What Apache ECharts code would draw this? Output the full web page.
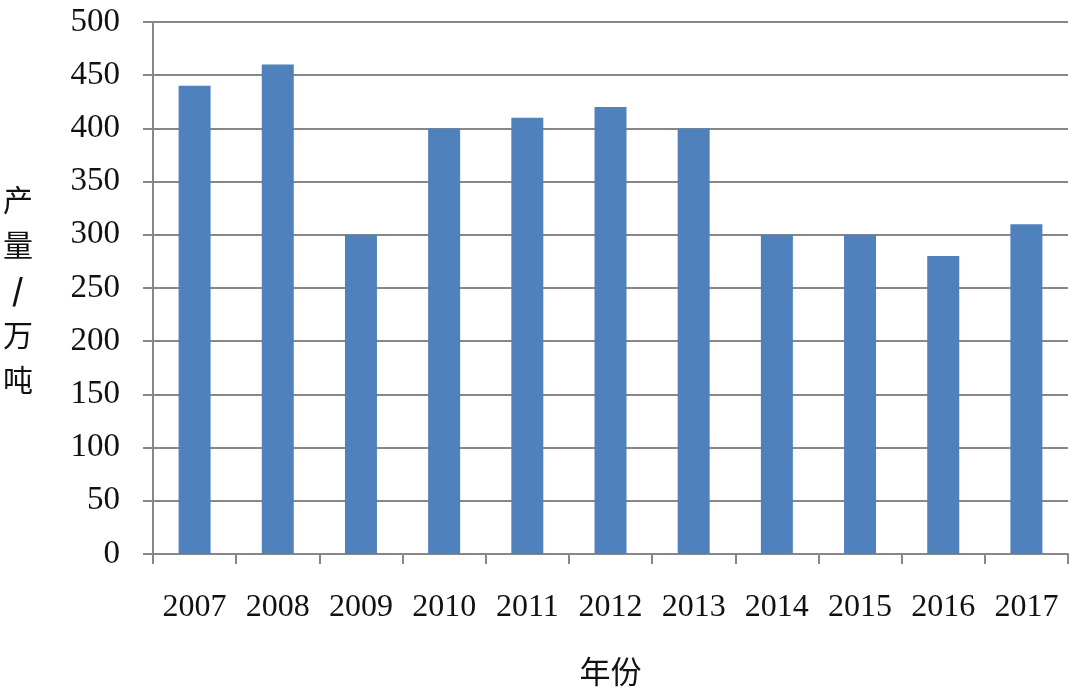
<!DOCTYPE html>
<html><head><meta charset="utf-8">
<script src="https://cdn.jsdelivr.net/npm/echarts@6/dist/echarts.min.js"></script>
<style>html,body{margin:0;padding:0;background:#fff}#c{width:1080px;height:698px}</style>
</head><body><div id="c"></div>
<script>
var categories = ['2007','2008','2009','2010','2011','2012','2013','2014','2015','2016','2017'];
var output = [440, 460, 300, 400, 410, 420, 400, 300, 300, 280, 310];
var yTicks = { min: 0, max: 500, interval: 50 };
var xName = '年份';
var yName = ['产','量','/','万','吨'];

var serif = '"Liberation Serif", "Times New Roman", serif';
var cjk = '"Noto Sans CJK SC", sans-serif';
var gray = '#878787';
var chart = echarts.init(document.getElementById('c'));
chart.setOption({
  animation: false,
  backgroundColor: '#fff',
  grid: { left: 153, top: 22, right: 12, bottom: 144, containLabel: false },
  xAxis: {
    type: 'category', data: categories,
    name: xName, nameLocation: 'middle', nameGap: 102,
    nameTextStyle: { fontFamily: cjk, fontSize: 31, color: '#111' },
    axisLine: { lineStyle: { color: gray, width: 2 } },
    axisTick: { show: true, length: 10, interval: 0, alignWithLabel: false, lineStyle: { color: gray, width: 2 } },
    axisLabel: { interval: 0, hideOverlap: false, fontFamily: serif, fontSize: 32, color: '#111', margin: 38 }
  },
  yAxis: {
    type: 'value', min: yTicks.min, max: yTicks.max, interval: yTicks.interval,
    axisLine: { show: true, lineStyle: { color: gray, width: 2 } },
    axisTick: { show: true, length: 10, lineStyle: { color: gray, width: 2 } },
    splitLine: { show: true, lineStyle: { color: gray, width: 2 } },
    axisLabel: { fontFamily: serif, fontSize: 33, color: '#111', margin: 33 }
  },
  graphic: yName.map(function (ch, i) {
    return { type: 'text', left: ch === '/' ? 12 : 3, top: 185 + i * 45,
      style: { text: ch, font: (ch === '/' ? 'bold ' : '') + '30px ' + cjk, fill: '#111' } };
  }),
  series: [{
    type: 'bar', data: output, barWidth: 32,
    itemStyle: { color: '#4F81BD' }
  }]
});
</script></body></html>
